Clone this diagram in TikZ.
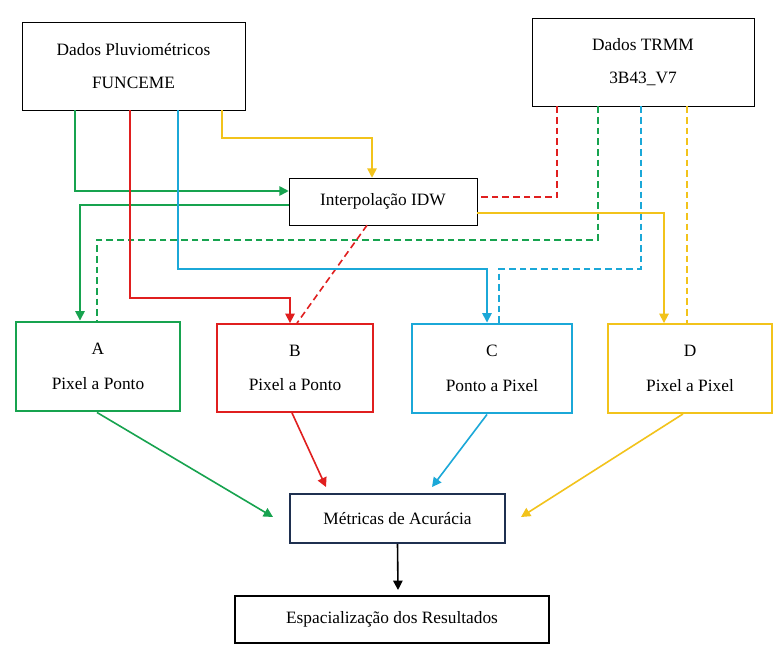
\documentclass[tikz,border=0pt]{standalone}
\usepackage{fontspec}
\setmainfont{Liberation Serif}
\usetikzlibrary{arrows.meta}
\definecolor{cg}{HTML}{17A34F}
\definecolor{cr}{HTML}{E01F1F}
\definecolor{cc}{HTML}{1BA8D8}
\definecolor{cy}{HTML}{F2C31B}
\definecolor{cn}{HTML}{1F3050}
\begin{document}
\begin{tikzpicture}[x=0.75pt,y=-0.75pt,
 box/.style={draw,rectangle,align=center,font=\fontsize{13}{20}\selectfont,inner sep=0pt},
 ln/.style={line width=1.2pt},
 ar/.style={ln,-{Triangle[length=7pt,width=7pt]}},
 dl/.style={ln,dash pattern=on 5pt off 3pt}]
\fill[white] (0,0) rectangle (784,656);
\node[box,minimum width=223*0.75pt,minimum height=88*0.75pt] (F) at (133.5,66) {Dados Pluviométricos\\[5pt]FUNCEME};
\node[box,minimum width=222*0.75pt,minimum height=88*0.75pt] (T) at (643,62) {Dados TRMM\\[5pt]3B43\_V7};
\node[box,minimum width=188*0.75pt,minimum height=47*0.75pt] (I) at (383,201.5) {Interpolação IDW};
\node[box,draw=cg,line width=2.2pt,minimum width=164*0.75pt,minimum height=89*0.75pt] (A) at (98,366.5) {A\\[6pt]Pixel a Ponto};
\node[box,draw=cr,line width=1.4pt,minimum width=156*0.75pt,minimum height=88*0.75pt] (B) at (295,368) {B\\[6pt]Pixel a Ponto};
\node[box,draw=cc,line width=2.2pt,minimum width=160*0.75pt,minimum height=89*0.75pt] (C) at (492,368.5) {C\\[6pt]Ponto a Pixel};
\node[box,draw=cy,line width=1.4pt,minimum width=164*0.75pt,minimum height=89*0.75pt] (D) at (690,368.5) {D\\[6pt]Pixel a Pixel};
\node[box,draw=cn,line width=1.4pt,minimum width=215*0.75pt,minimum height=49*0.75pt] (M) at (397.5,518.5) {Métricas de Acurácia};
\node[box,line width=1.4pt,minimum width=314*0.75pt,minimum height=47*0.75pt] (E) at (392,619.5) {Espacialização dos Resultados};
% green
\draw[ar,cg] (F.south -| 75,0) |- (I.west |- 0,191);
\draw[ar,cg] (I.west |- 0,205) -| (A.north -| 80,0);
\draw[dl,cg] (T.south -| 598,0) |- (97,240) -- (A.north -| 97,0);
% red
\draw[ar,cr] (F.south -| 130,0) |- (290,298) -- (B.north -| 290,0);
\draw[dl,cr] (T.south -| 557,0) |- (I.east |- 0,197);
\draw[dl,cr] (I.south -| 367,0) -- (B.north -| 297,0);
% cyan
\draw[ar,cc] (F.south -| 178,0) |- (487,269) -- (C.north -| 487,0);
\draw[dl,cc] (T.south -| 641,0) |- (499,269) -- (C.north -| 499,0);
% yellow
\draw[ar,cy] (F.south -| 222,0) |- (372,138) -- (I.north -| 372,0);
\draw[ar,cy] (I.east |- 0,213) -| (D.north -| 664,0);
\draw[dl,cy] (T.south -| 687,0) -- (D.north -| 687,0);
% to metrics
\draw[ar,cg] (A.south -| 97,0) -- (273,517);
\draw[ar,cr] (B.south -| 292,0) -- (326,487);
\draw[ar,cc] (C.south -| 487,0) -- (432,487);
\draw[ar,cy] (D.south -| 683,0) -- (521,517);
\draw[ar,black] (M.south) -- (398,590);
\end{tikzpicture}
\end{document}
